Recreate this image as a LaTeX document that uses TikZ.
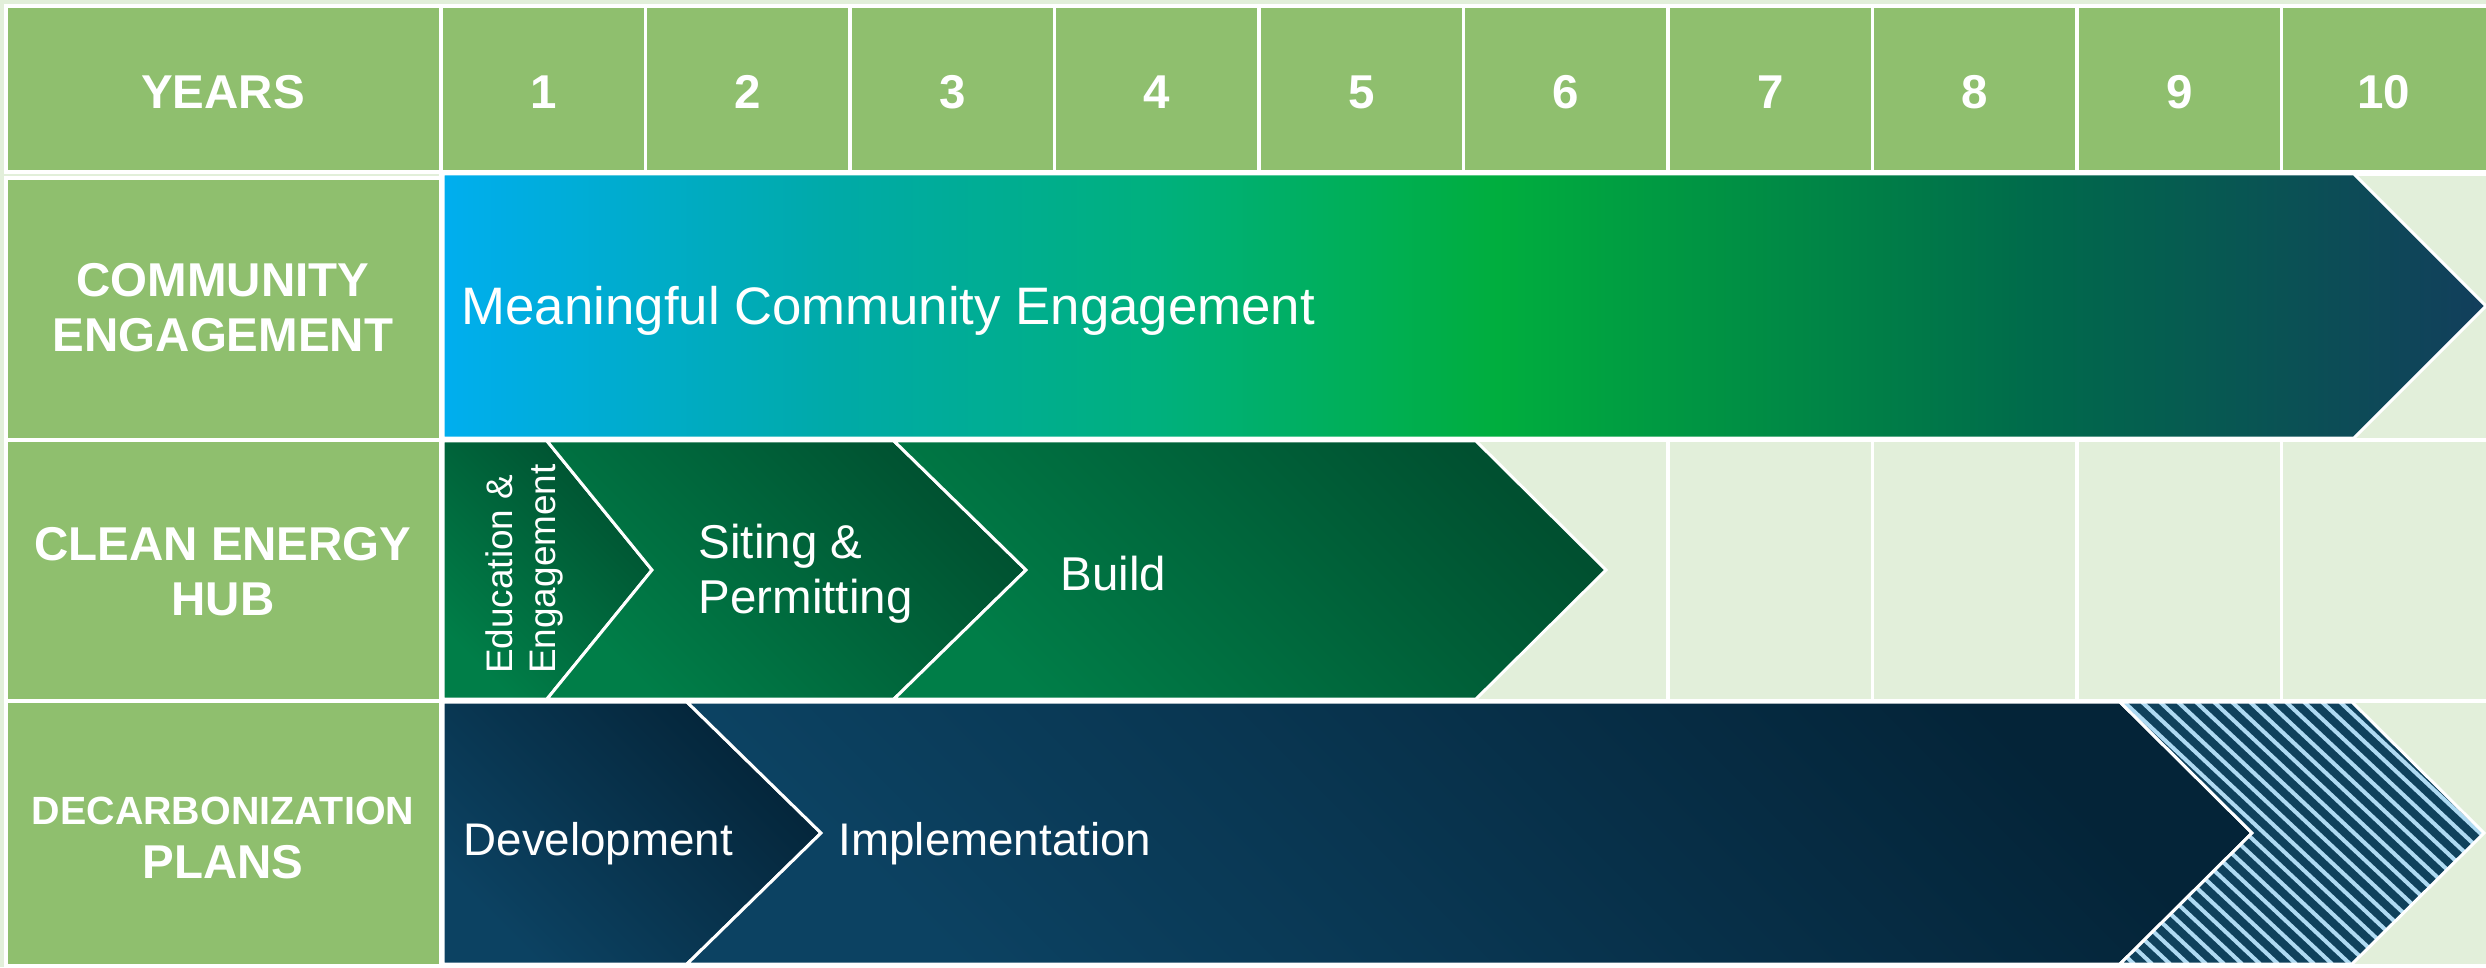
\documentclass[tikz,border=0pt]{standalone}
\usepackage{fontspec}
\setmainfont{Liberation Sans}
\usepackage{tikz}
\usetikzlibrary{positioning}
\definecolor{hdrgreen}{RGB}{143,191,110}
\definecolor{cellgreen}{RGB}{226,239,218}
\definecolor{ceA}{RGB}{0,174,239}
\definecolor{ceB}{RGB}{0,170,168}
\definecolor{ceC}{RGB}{0,176,125}
\definecolor{ceD}{RGB}{0,174,62}
\definecolor{ceE}{RGB}{0,106,75}
\definecolor{ceF}{RGB}{18,62,92}
\definecolor{cehdark}{RGB}{0,80,48}
\definecolor{cehlight}{RGB}{0,126,72}
\definecolor{dpdark}{RGB}{4,36,56}
\definecolor{dplight}{RGB}{12,66,98}
\definecolor{hatchdark}{RGB}{15,65,92}
\definecolor{hatchlight}{RGB}{175,218,242}
\pgfdeclarehorizontalshading{ceshade}{100bp}{color(0bp)=(ceA); color(25bp)=(ceA); color(34.5bp)=(ceB); color(42.5bp)=(ceC); color(50.8bp)=(ceD); color(64bp)=(ceE); color(75bp)=(ceF); color(100bp)=(ceF)}
\tikzstyle{hdr_cell}=[fill=hdrgreen, draw=white, line width=0.9pt]
\tikzstyle{grid_cell}=[fill=cellgreen, draw=white, line width=0.9pt]
\tikzstyle{bar_edge}=[draw=white, line width=0.85pt]
\tikzstyle{ceh_seg}=[top color=cehdark, bottom color=cehlight, shading angle=-45, bar_edge]
\tikzstyle{dp_seg}=[top color=dpdark, bottom color=dplight, shading angle=-45, bar_edge]
\tikzstyle{hdr_text}=[text=white, font={\fontsize{13.5}{15.6}\selectfont\bfseries}, align=center, inner sep=0pt]
\tikzstyle{bar_text}=[text=white, font={\fontsize{13.5}{15.6}\selectfont}, align=left, inner sep=0pt]

\begin{document}
\begin{tikzpicture}[x=0.01cm, y=-0.01cm]
  \useasboundingbox (0,0) rectangle (2486,967);
  \fill[cellgreen] (0,0) rectangle (2486,967);
  % header row
  \draw[hdr_cell] (6,6) rectangle (441,172);
  \foreach \k in {1,...,10}
    \draw[hdr_cell] ({441+(\k-1)*204.5},6) rectangle ({441+\k*204.5+10*(\k==10)},172);
  % empty year cells
  \foreach \top/\bot in {174/440, 440/701, 701/966}
    \foreach \k in {1,...,10}
      \draw[grid_cell] ({441+(\k-1)*204.5},\top) rectangle ({441+\k*204.5+10*(\k==10)},\bot);
  % row labels
  \draw[hdr_cell] (6,178) rectangle (441,440);
  \draw[hdr_cell] (6,440) rectangle (441,701);
  \draw[hdr_cell] (6,701) rectangle (441,966);
  \node[hdr_text, anchor=base] (years) at (223,109) {YEARS};
  \foreach \k in {1,...,10}
    \node[hdr_text, anchor=base] (yr\k) at ({441+(\k-0.5)*204.5},109) {\k};
  \node[hdr_text] (ce_label) at (223,308) {COMMUNITY\\ENGAGEMENT};
  \node[hdr_text] (ceh_label) at (223,572) {CLEAN ENERGY\\HUB};
  \node[hdr_text] (dp_label) at (223,838) {{\fontsize{11.2}{15.6}\selectfont DECARBONIZATION}\\PLANS};

  % community engagement
  \shadedraw[shading=ceshade, bar_edge] (443,174) -- (2354,174) -- (2486,306) -- (2354,438) -- (443,438) -- cycle;
  \node[bar_text, font={\fontsize{15}{18}\selectfont}, anchor=base west] (ce_bar) at (461,324) {Meaningful Community Engagement};

  % clean energy hub
  \shadedraw[ceh_seg] (443,441) -- (547,441) -- (652,570) -- (547,699) -- (443,699) -- cycle;
  \shadedraw[ceh_seg] (547,441) -- (894,441) -- (1026,570) -- (894,699) -- (547,699) -- (652,570) -- cycle;
  \shadedraw[ceh_seg] (894,441) -- (1476,441) -- (1606,570) -- (1476,699) -- (894,699) -- (1026,570) -- cycle;
  \node[bar_text, font={\fontsize{10.5}{12.2}\selectfont}, rotate=90] (edu) at (524,569) {Education \&\\Engagement};
  \node[bar_text, anchor=west] (siting) at (698,574) {Siting \&\\Permitting};
  \node[bar_text, anchor=base west] (build) at (1060,590) {Build};

  % decarbonization plans
  \shadedraw[dp_seg] (443,702) -- (687,702) -- (821,833) -- (687,964) -- (443,964) -- cycle;
  \shadedraw[dp_seg] (687,702) -- (2120,702) -- (2252,833) -- (2120,964) -- (687,964) -- (821,833) -- cycle;
  \begin{scope}
    \clip (2120,702) -- (2352,702) -- (2484,833) -- (2352,964) -- (2120,964) -- (2252,833) -- cycle;
    \fill[hatchdark] (1800,700) rectangle (2490,967);
    \foreach \x in {1800,1818,...,2500}
      \draw[hatchlight, line width=1.15pt] (\x,702) -- ++(280,262);
  \end{scope}
  \draw[bar_edge] (2120,702) -- (2352,702) -- (2484,833) -- (2352,964) -- (2120,964) -- (2252,833) -- cycle;
  \node[bar_text, font={\fontsize{13}{15.6}\selectfont}, anchor=base west] (devel) at (463,855) {Development};
  \node[bar_text, font={\fontsize{13}{15.6}\selectfont}, anchor=base west] (impl) at (838,855) {Implementation};
\end{tikzpicture}
\end{document}
